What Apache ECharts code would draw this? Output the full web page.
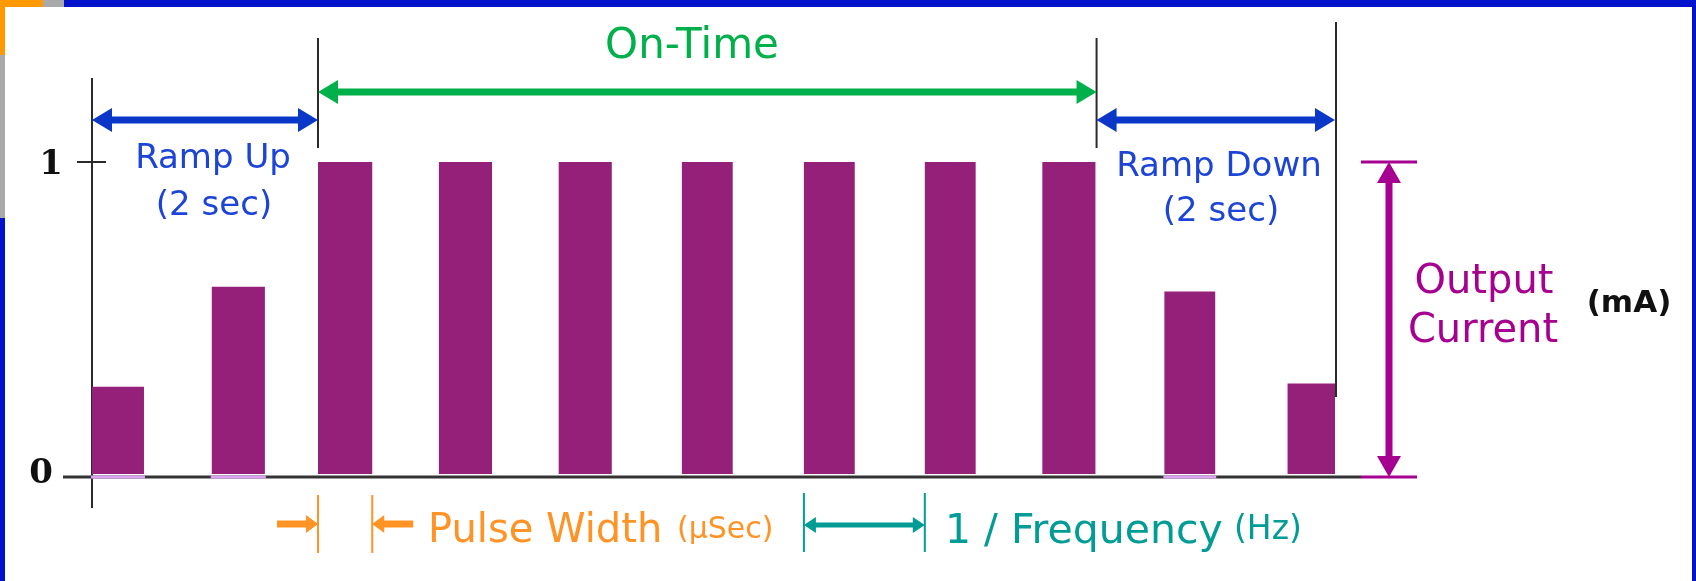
<!DOCTYPE html>
<html><head><meta charset="utf-8">
<script src="https://cdn.jsdelivr.net/npm/echarts@6/dist/echarts.min.js"></script>
<style>html,body{margin:0;padding:0;background:#fff;overflow:hidden}#c{width:1696px;height:581px}</style>
</head><body><div id="c"></div><script>
// ---- data (time in seconds, level normalised 0..1) ----
const pulseStart = [0.00, 1.06, 2.00, 3.07, 4.13, 5.22, 6.30, 7.37, 8.41, 9.49, 10.58];
const pulseEnd   = [0.46, 1.53, 2.48, 3.54, 4.60, 5.67, 6.75, 7.82, 8.88, 9.94, 11.00];
const pulseLevel = [0.28, 0.60, 1, 1, 1, 1, 1, 1, 1, 0.585, 0.29];
const rampPulses = [0, 1, 9];
const yTickValues = [0, 1];
const yTickLabels = ['0', '1'];
const phaseBounds = [0, 2.0, 8.89, 11.0];
const phaseNames = ['Ramp Up', 'On-Time', 'Ramp Down'];
const phaseNotes = ['(2 sec)', '', '(2 sec)'];
const outputLabel = ['Output', 'Current'];
const outputUnit = '(mA)';
const widthLabel = ['Pulse Width', '(\u03bcSec)'];
const freqLabel = ['1 / Frequency', '(Hz)'];

const BAR = '#952079', BLUE = '#0b37c8', BLUE_T = '#1c44d6', GREEN = '#00b04a',
      ORANGE = '#ff9326', TEAL = '#009c95', MAG = '#a5008f', BLACK = '#2a2a2a';
const SANS = '"DejaVu Sans", Verdana, sans-serif';

const chart = echarts.init(document.getElementById('c'), null, {renderer: 'canvas'});
chart.setOption({
  animation: false,
  backgroundColor: '#ffffff',
  grid: {left: 92, right: 361, top: 162, bottom: 107},
  xAxis: {type: 'value', min: phaseBounds[0], max: phaseBounds[3], show: false},
  yAxis: {type: 'value', min: 0, max: 1, interval: 1, show: false},
  series: [{
    type: 'custom',
    z: 5,
    data: pulseStart.map((s, i) => [s, pulseEnd[i], pulseLevel[i]]),
    encode: {x: [0, 1], y: 2},
    renderItem: (params, api) => {
      const a = api.coord([api.value(0), 0]);
      const b = api.coord([api.value(1), api.value(2)]);
      return {type: 'rect', shape: {x: a[0], y: b[1], width: b[0] - a[0], height: a[1] - b[1]},
              style: {fill: BAR}};
    }
  }]
});

const px = v => chart.convertToPixel({gridIndex: 0}, [v, 0])[0];
const py = v => chart.convertToPixel({gridIndex: 0}, [0, v])[1];

const G = [];
const line = (x1, y1, x2, y2, c, w, z) => G.push({type: 'line', silent: true, z: z || 10,
  shape: {x1, y1, x2, y2}, style: {stroke: c, lineWidth: w}});
const rect = (x, y, w, h, c, z) => G.push({type: 'rect', silent: true, z: z || 1,
  shape: {x, y, width: w, height: h}, style: {fill: c}});
const poly = (pts, c) => G.push({type: 'polygon', silent: true, z: 10, shape: {points: pts}, style: {fill: c}});
const text = (t, x, y, font, c, align) => G.push({type: 'text', silent: true, z: 12, x, y,
  style: {text: t, font, fill: c, textAlign: align || 'center', textVerticalAlign: 'middle'}});

function hArrow(x1, x2, y, t, hl, hw, c, left, right) {
  const a = left ? x1 + hl : x1, b = right ? x2 - hl : x2, h = t / 2;
  const pts = [];
  if (left) pts.push([x1, y], [a, y - hw]);
  pts.push([a, y - h], [b, y - h]);
  if (right) pts.push([b, y - hw], [x2, y], [b, y + hw]);
  pts.push([b, y + h], [a, y + h]);
  if (left) pts.push([a, y + hw]);
  poly(pts, c);
}
function vArrow(x, y1, y2, t, hl, hw, c) {
  const a = y1 + hl, b = y2 - hl, h = t / 2;
  poly([[x, y1], [x + hw, a], [x + h, a], [x + h, b], [x + hw, b], [x, y2], [x - hw, b],
        [x - h, b], [x - h, a], [x - hw, a]], c);
}

// border
rect(0, 0, 1696, 7, '#0012cc');
rect(0, 0, 5, 581, '#0012cc');
rect(1692, 0, 4, 581, '#0012cc');
rect(0, 0, 43, 7, '#ff9900', 2); rect(0, 0, 5, 55, '#ff9900', 2);
rect(43, 0, 21, 7, '#a9a9a9', 2); rect(0, 55, 5, 163, '#a9a9a9', 2);

const x0 = px(phaseBounds[0]), x1 = px(phaseBounds[1]), x2 = px(phaseBounds[2]), x3 = px(phaseBounds[3]);
const yTop = py(1), yBase = py(0) + 3;

// axis lines and ticks (behind the pulses)
line(x0, 78, x0, 508, BLACK, 2, 1);
line(x0 - 15, yTop, x0 + 14, yTop, BLACK, 2);
line(x0 - 29, yBase, x3 + 26, yBase, '#333', 3);
rampPulses.forEach(i => line(px(pulseStart[i]) - 1, yBase, px(pulseEnd[i]) + 1, yBase, '#dca4f0', 3));
text(yTickLabels[1], x0 - 29, py(yTickValues[1]) + 3, 'bold 34px "DejaVu Serif", serif', '#111', 'right');
text(yTickLabels[0], x0 - 39, py(yTickValues[0]), 'bold 34px "DejaVu Serif", serif', '#111', 'right');

// phase boundaries
line(x1, 38, x1, 148, BLACK, 2);
line(x2, 38, x2, 148, BLACK, 2);
line(x3 + 1, 22, x3 + 1, 397, BLACK, 2, 1);
hArrow(x0, x1, 120, 7, 20, 12, BLUE, true, true);
hArrow(x1, x2, 92, 7, 20, 12, GREEN, true, true);
hArrow(x2, x3, 120, 7, 20, 12, BLUE, true, true);
text(phaseNames[0], 213, 159, '34px ' + SANS, BLUE_T);
text(phaseNotes[0], 214, 206, '34px ' + SANS, BLUE_T);
text(phaseNames[1], 692, 47, '42px ' + SANS, GREEN);
text(phaseNames[2], 1219, 167, '34px ' + SANS, BLUE_T);
text(phaseNotes[2], 1221, 212, '34px ' + SANS, BLUE_T);

// output current
const xm = x3 + 54;
line(x3 + 26, yTop, x3 + 82, yTop, MAG, 3);
line(x3 + 26, yBase, x3 + 82, yBase, MAG, 3);
vArrow(xm, yTop, yBase, 7, 21, 12, MAG);
text(outputLabel[0], 1484, 283, '40px ' + SANS, MAG);
text(outputLabel[1], 1483, 332, '40px ' + SANS, MAG);
text(outputUnit, 1629, 304, 'bold 31px ' + SANS, '#111');

// pulse width (pulse 3)
const pw1 = px(pulseStart[2]), pw2 = px(pulseEnd[2]);
line(pw1, 495, pw1, 553, ORANGE, 2);
line(pw2, 495, pw2, 553, ORANGE, 2);
hArrow(pw1 - 41, pw1, 524, 7, 12, 9, ORANGE, false, true);
hArrow(pw2, pw2 + 41, 524, 7, 12, 9, ORANGE, true, false);
text(widthLabel[0], 428, 532, '40px ' + SANS, ORANGE, 'left');
text(widthLabel[1], 677, 530, '30px ' + SANS, ORANGE, 'left');

// period (pulse 7 -> pulse 8)
const f1 = px(pulseStart[6]), f2 = px(pulseStart[7]);
line(f1, 493, f1, 552, TEAL, 2);
line(f2, 493, f2, 552, TEAL, 2);
hArrow(f1, f2, 525, 5, 12, 8, TEAL, true, true);
text(freqLabel[0], 945, 532, '41px ' + SANS, TEAL, 'left');
text(freqLabel[1], 1234, 530, '33px ' + SANS, TEAL, 'left');

chart.setOption({graphic: {elements: G}});
</script></body></html>
